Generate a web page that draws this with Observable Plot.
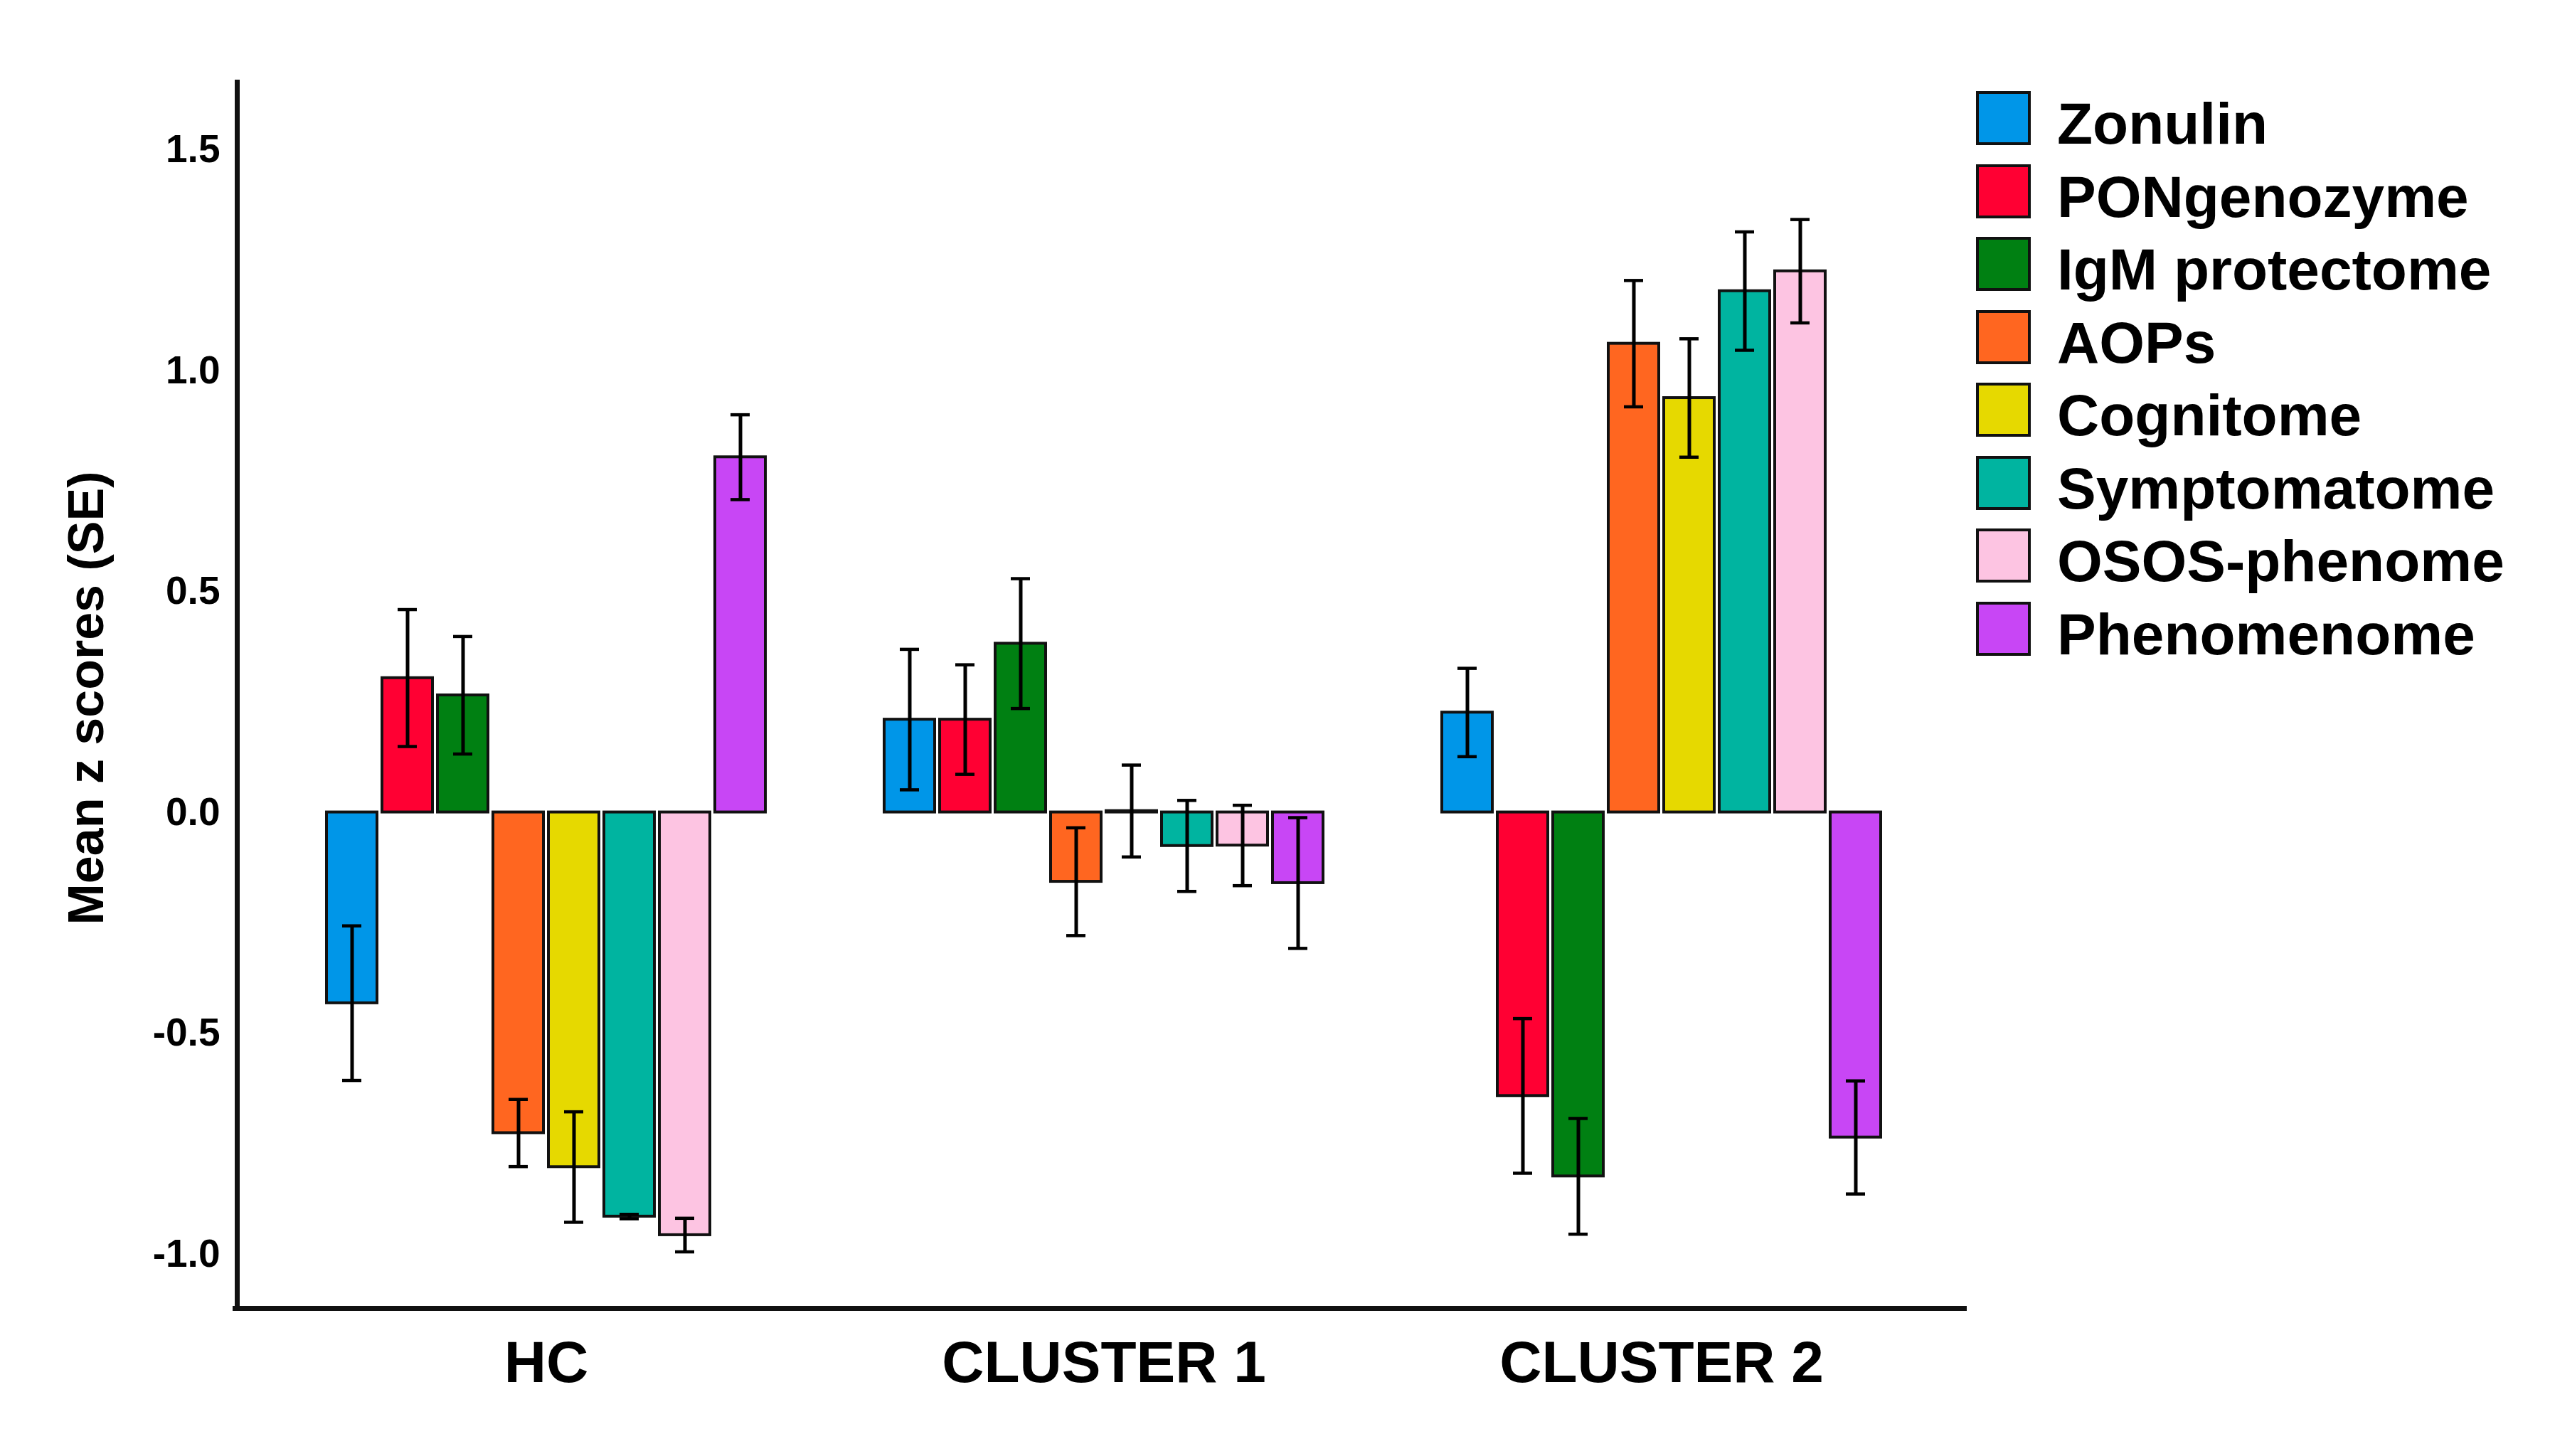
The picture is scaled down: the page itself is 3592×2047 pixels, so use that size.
<!DOCTYPE html>
<html>
<head>
<meta charset="utf-8">
<script src="https://cdn.jsdelivr.net/npm/d3@7"></script>
<script src="https://cdn.jsdelivr.net/npm/@observablehq/plot@0.6"></script>
<style>
  html, body { margin: 0; padding: 0; background: #fff; }
  #wrap { position: relative; width: 3592px; height: 2047px; background: #fff; font-family: "Liberation Sans", Arial, sans-serif; }
  #legend { position: absolute; left: 2778px; top: 115px; }
  .row { display: flex; align-items: center; height: 102.5px; }
  .sw { width: 69px; height: 68px; border: 4px solid #111; box-sizing: content-box; }
  .lab { margin-left: 37px; font-size: 82px; font-weight: bold; color: #000; line-height: 1; position: relative; top: 8px; white-space: nowrap; }
</style>
</head>
<body>
<div id="wrap"></div>
<script>
// ---- data ----
const groups = ["HC", "CLUSTER 1", "CLUSTER 2"];
const series = ["Zonulin", "PONgenozyme", "IgM protectome", "AOPs", "Cognitome", "Symptomatome", "OSOS-phenome", "Phenomenome"];
const colors = ["#0096E8", "#FF0033", "#008012", "#FF6620", "#E6D900", "#00B4A0", "#FDC4E2", "#C846F5"];

const hcMean = [-0.432, 0.304, 0.265, -0.726, -0.803, -0.915, -0.957, 0.804];
const hcSE   = [0.175, 0.155, 0.133, 0.076, 0.125, 0.005, 0.038, 0.096];
const c1Mean = [0.210, 0.210, 0.382, -0.157, 0.003, -0.076, -0.075, -0.160];
const c1SE   = [0.159, 0.124, 0.147, 0.122, 0.104, 0.103, 0.091, 0.148];
const c2Mean = [0.226, -0.642, -0.824, 1.061, 0.938, 1.180, 1.225, -0.736];
const c2SE   = [0.100, 0.175, 0.131, 0.143, 0.134, 0.134, 0.117, 0.128];

const yTicks = [-1.0, -0.5, 0.0, 0.5, 1.0, 1.5];
const yDomain = [-1.123, 1.653];
const yTitle = "Mean z scores (SE)";

// ---- build table ----
const means = [hcMean, c1Mean, c2Mean];
const ses = [hcSE, c1SE, c2SE];
const rows = [];
groups.forEach((g, gi) => {
  series.forEach((s, si) => {
    const m = means[gi][si], e = ses[gi][si];
    rows.push({group: g, series: s, mean: m, lo: m - e, hi: m + e});
  });
});

const chart = Plot.plot({
  width: 3592,
  height: 2047,
  marginTop: 115,
  marginBottom: 208,
  marginLeft: 335,
  marginRight: 824,
  style: {fontFamily: "'Liberation Sans', Arial, sans-serif", background: "#fff", color: "#000"},
  fx: {domain: groups, paddingInner: 0.2076, paddingOuter: 0.1535, label: null},
  x: {domain: series, paddingInner: 0.09, paddingOuter: 0, axis: null},
  y: {domain: yDomain},
  color: {domain: series, range: colors},
  marks: [
    Plot.barY(rows, {fx: "group", x: "series", y: "mean", fill: "series", stroke: "#111", strokeWidth: 4}),
    Plot.ruleX(rows, {fx: "group", x: "series", y1: "lo", y2: "hi", stroke: "#000", strokeWidth: 5}),
    Plot.tickY(rows, {fx: "group", x: "series", y: "lo", stroke: "#000", strokeWidth: 4.5, insetLeft: 22, insetRight: 22}),
    Plot.tickY(rows, {fx: "group", x: "series", y: "hi", stroke: "#000", strokeWidth: 4.5, insetLeft: 22, insetRight: 22}),
    Plot.axisY({ticks: yTicks, tickFormat: d => d.toFixed(1), tickSize: 0, tickPadding: 148, label: null,
      fontSize: 55, fontWeight: "bold"}),
    Plot.axisFx({anchor: "bottom", tickSize: 0, tickPadding: 45, label: null, fontSize: 82, fontWeight: "bold"}),
    Plot.frame({anchor: "left", facet: "super", stroke: "#111", strokeWidth: 7, insetLeft: -124}),
    Plot.frame({anchor: "bottom", facet: "super", stroke: "#111", strokeWidth: 7, insetLeft: -127, insetRight: -115}),
    Plot.text([yTitle], {text: d => d, frameAnchor: "left", textAnchor: "middle", dx: -335, dy: 4, rotate: -90, facet: "super",
      fontSize: 70, fontWeight: "bold", fill: "#000"})
  ]
});

const wrap = document.getElementById("wrap");
wrap.appendChild(chart);

const legend = document.createElement("div");
legend.id = "legend";
series.forEach((s, i) => {
  const row = document.createElement("div");
  row.className = "row";
  const sw = document.createElement("div");
  sw.className = "sw";
  sw.style.background = colors[i];
  const lab = document.createElement("div");
  lab.className = "lab";
  lab.textContent = s;
  row.appendChild(sw);
  row.appendChild(lab);
  legend.appendChild(row);
});
wrap.appendChild(legend);
</script>
</body>
</html>
